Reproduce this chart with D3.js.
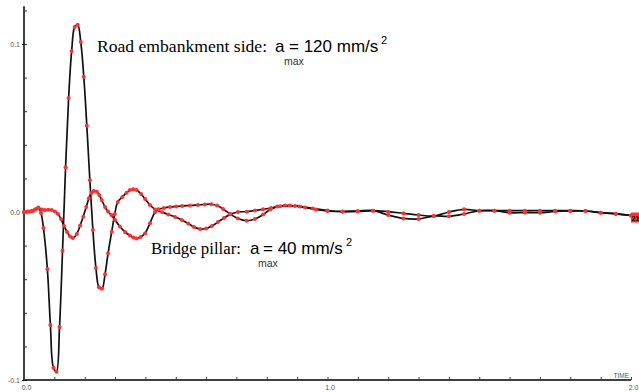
<!DOCTYPE html>
<html>
<head>
<meta charset="utf-8">
<script src="https://cdn.jsdelivr.net/npm/d3@7"></script>
<style>
  body { margin: 0; background: #fff; }
  #chart svg { display: block; }
</style>
</head>
<body>
<div id="chart"></div>
<script>
// time (s) and acceleration values
const embankTime = [0, 0.01, 0.02, 0.03, 0.04, 0.047, 0.056, 0.064, 0.077, 0.087, 0.097, 0.107, 0.117, 0.127,
  0.137, 0.147, 0.157, 0.167, 0.177, 0.187, 0.197, 0.207, 0.217, 0.227, 0.237, 0.247, 0.257, 0.267, 0.277,
  0.289, 0.299, 0.309, 0.324, 0.338, 0.349, 0.360, 0.371, 0.386, 0.399, 0.415, 0.432, 0.454, 0.475, 0.498,
  0.520, 0.541, 0.560, 0.580, 0.600, 0.619, 0.639, 0.659, 0.679, 0.705, 0.734, 0.761, 0.788, 0.814, 0.844,
  0.876, 0.909, 0.952, 1.0, 1.05, 1.10, 1.15, 1.20, 1.25, 1.30, 1.35, 1.40, 1.45, 1.50, 1.55, 1.60, 1.65,
  1.70, 1.75, 1.80, 1.85, 1.90, 1.95, 2.0];
const embankValue = [0, 0, 0.0003, 0.0006, 0.0018, 0.0027, -0.0006, -0.0095, -0.0339, -0.0673, -0.0927, -0.0951,
  -0.0685, -0.0230, 0.0266, 0.0679, 0.0958, 0.1101, 0.1115, 0.1012, 0.0805, 0.0514, 0.0189, -0.0107, -0.0333,
  -0.0448, -0.0457, -0.0371, -0.0246, -0.0117, -0.0012, 0.0060, 0.0089, 0.0115, 0.0131, 0.0135, 0.0131, 0.0107,
  0.0077, 0.0042, 0.0015, 0, -0.0015, -0.0030, -0.0048, -0.0068, -0.0089, -0.0101, -0.0098, -0.0083, -0.0060,
  -0.0036, -0.0014, 0, 0.0002, 0.0009, 0.0016, 0.0024, 0.0034, 0.0038, 0.0033, 0.0021, 0.0009, 0.0002, 0.0003,
  0.0008, 0.0002, -0.0008, -0.0018, -0.0024, 0, 0.0016, 0.0008, 0.0008, 0.0008, 0.0008, 0.0008, 0.0008, 0.0008,
  0.0006, -0.0004, -0.0010, -0.0021];

const pillarTime = [0, 0.013, 0.025, 0.036, 0.047, 0.059, 0.069, 0.080, 0.091, 0.102, 0.112, 0.122, 0.132, 0.142,
  0.152, 0.161, 0.174, 0.185, 0.195, 0.205, 0.214, 0.222, 0.230, 0.240, 0.248, 0.256, 0.267, 0.277, 0.288,
  0.300, 0.316, 0.333, 0.349, 0.361, 0.371, 0.384, 0.399, 0.415, 0.432, 0.443, 0.461, 0.481, 0.501, 0.521,
  0.547, 0.573, 0.596, 0.618, 0.636, 0.656, 0.679, 0.705, 0.734, 0.761, 0.788, 0.811, 0.834, 0.860, 0.893,
  0.926, 0.962, 1.0, 1.05, 1.10, 1.15, 1.20, 1.25, 1.30, 1.35, 1.40, 1.45, 1.50, 1.55, 1.60, 1.65, 1.70, 1.75,
  1.80, 1.85, 1.90, 1.95, 2.0];
const pillarValue = [0, 0.0003, 0.0006, 0.0015, 0.0024, 0.0015, 0.0012, 0.0014, 0.0012, 0.0003, -0.0012, -0.0042,
  -0.0083, -0.0119, -0.0146, -0.0155, -0.0131, -0.0080, -0.0028, 0.0030, 0.0082, 0.0113, 0.0125, 0.0121, 0.0101,
  0.0071, 0.0030, 0.0003, -0.0018, -0.0048, -0.0086, -0.0119, -0.0140, -0.0152, -0.0157, -0.0149, -0.0127,
  -0.0067, 0, 0.0016, 0.0024, 0.0030, 0.0033, 0.0036, 0.0039, 0.0042, 0.0045, 0.0046, 0.0039, 0.0018, -0.0012,
  -0.0039, -0.0052, -0.0042, -0.0015, 0.0015, 0.0032, 0.0038, 0.0036, 0.0027, 0.0015, 0.0006, 0.0003, 0.0006,
  0.0008, -0.0018, -0.0038, -0.0042, -0.0024, -0.0026, -0.0012, 0.0008, 0.0008, -0.0004, -0.0004, -0.0004,
  0.0003, 0.0006, 0.0006, -0.0004, -0.0012, -0.0021];

const yLabelTicks = [-0.1, 0, 0.1];
const xLabelTicks = [0, 1, 2];

const width = 639, height = 392;

const svg = d3.select("#chart")
  .append("svg")
  .attr("width", width)
  .attr("height", height)
  .style("font-family", "'Liberation Sans', Arial, sans-serif");

const x = d3.scaleLinear().domain([0, 2]).range([24, 631]);
const y = d3.scaleLinear().domain([-0.1, 0.1]).range([380, 44]);

// y axis: line plus minor ticks every 0.02 pointing inward
svg.append("line")
  .attr("x1", x(0)).attr("x2", x(0))
  .attr("y1", y(0.1225)).attr("y2", y(-0.1))
  .attr("stroke", "#000").attr("stroke-width", 1.5);

const yTicks = d3.range(-5, 7).map((i) => i * 0.02);
svg.append("g")
  .attr("transform", `translate(${x(0)},0)`)
  .call(d3.axisRight(y).tickValues(yTicks).tickSize(3).tickSizeOuter(0).tickFormat(""))
  .call((g) => g.select(".domain").remove())
  .call((g) => g.selectAll("line").attr("stroke", "#333"));

svg.append("g")
  .attr("transform", `translate(${x(0)},0)`)
  .call(d3.axisLeft(y).tickValues(yLabelTicks).tickSize(2).tickPadding(2).tickFormat((d) => d.toFixed(1)))
  .call((g) => g.select(".domain").remove())
  .call((g) => g.selectAll("line").attr("stroke", "#000"))
  .call((g) => g.selectAll("text").attr("fill", "#555").style("font-size", "7px")
    .style("font-family", "'Liberation Sans', Arial, sans-serif"));

// x axis
svg.append("line")
  .attr("x1", x(0)).attr("x2", x(2))
  .attr("y1", y(-0.1)).attr("y2", y(-0.1))
  .attr("stroke", "#000").attr("stroke-width", 1.5);

const xTicks = d3.range(0, 21).map((i) => i * 0.1);
svg.append("g")
  .attr("transform", `translate(0,${y(-0.1)})`)
  .call(d3.axisTop(x).tickValues(xTicks).tickSize(3).tickSizeOuter(0).tickFormat(""))
  .call((g) => g.select(".domain").remove())
  .call((g) => g.selectAll("line").attr("stroke", "#444"));

svg.append("g")
  .attr("transform", `translate(2,${y(-0.1)})`)
  .call(d3.axisBottom(x).tickValues(xLabelTicks).tickSize(0).tickPadding(5).tickFormat((d) => d.toFixed(1)))
  .call((g) => g.select(".domain").remove())
  .call((g) => g.selectAll("text").attr("fill", "#555").style("font-size", "7px")
    .style("font-family", "'Liberation Sans', Arial, sans-serif"));

svg.append("text")
  .attr("x", 629).attr("y", 377.5)
  .attr("text-anchor", "end")
  .attr("fill", "#555")
  .style("font-size", "6.5px")
  .text("TIME");

// the two traces
const line = d3.line()
  .x((d) => x(d[0]))
  .y((d) => y(d[1]))
  .curve(d3.curveCatmullRom.alpha(0.5));

const series = [
  d3.zip(pillarTime, pillarValue),
  d3.zip(embankTime, embankValue),
];

series.forEach((data) => {
  svg.append("path")
    .datum(data)
    .attr("fill", "none")
    .attr("stroke", "#111")
    .attr("stroke-width", 1.7)
    .attr("d", line);
});

series.forEach((data) => {
  svg.append("g")
    .selectAll("circle")
    .data(data)
    .enter()
    .append("circle")
    .attr("cx", (d) => x(d[0]))
    .attr("cy", (d) => y(d[1]))
    .attr("r", 2)
    .attr("fill", "#ff3030");
});

// end-of-trace tag
const last = embankTime.length - 1;
svg.append("rect")
  .attr("x", x(embankTime[last]))
  .attr("y", y(embankValue[last]) - 3)
  .attr("width", 10).attr("height", 10)
  .attr("fill", "#ff3030");
svg.append("text")
  .attr("x", x(embankTime[last]) + 0.5)
  .attr("y", y(embankValue[last]) + 5)
  .attr("fill", "#000")
  .style("font-size", "7px")
  .style("font-weight", "bold")
  .text("21");

// annotations
function annotate(g, label, labelSize, value, xs) {
  g.append("text")
    .attr("x", xs[0]).attr("y", 0)
    .style("font-family", "'Liberation Serif', 'Times New Roman', serif")
    .style("font-size", labelSize + "px")
    .attr("fill", "#000")
    .text(label);
  g.append("text")
    .attr("x", xs[1]).attr("y", 0)
    .style("font-size", "17px")
    .text("a");
  g.append("text")
    .attr("x", xs[2]).attr("y", 13)
    .style("font-size", "10.5px")
    .attr("fill", "#333")
    .text("max");
  g.append("text")
    .attr("x", xs[3]).attr("y", 0)
    .style("font-size", "17px")
    .text(value);
  g.append("text")
    .attr("x", xs[4]).attr("y", -8)
    .style("font-size", "11px")
    .text("2");
}

annotate(svg.append("g").attr("transform", "translate(0,52)"),
  "Road embankment side:", 17.6, "= 120 mm/s", [97, 275, 284, 289, 381]);
annotate(svg.append("g").attr("transform", "translate(0,254)"),
  "Bridge pillar:", 16.8, "= 40 mm/s", [151, 250, 258, 263, 346]);
</script>
</body>
</html>
